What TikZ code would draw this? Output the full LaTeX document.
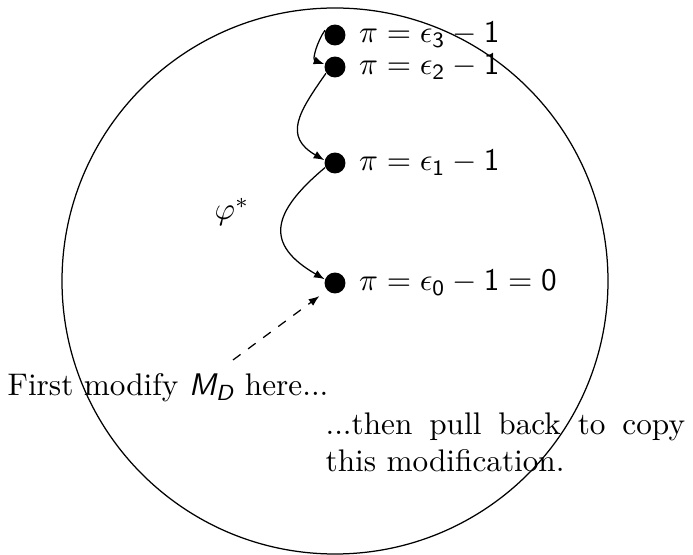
\documentclass[tikz,border=0pt]{standalone}
\usepackage{amsmath,amssymb}
\usepackage{tikz}
\usetikzlibrary{arrows.meta,positioning}

\begin{document}
\begin{tikzpicture}[
    x=0.32pt, y=-0.32pt,
    >={Latex[length=3.4pt,width=2.6pt]},
    arrow/.style={->, thin},
    dot/.style={circle, fill=black, inner sep=0pt, minimum size=6.7pt},
    level/.style={anchor=west, inner sep=0pt},
    remark/.style={inner sep=0pt},
]
\useasboundingbox (0,0) rectangle (693,555);

%% ── the space ────────────────────────────────────────────────
\draw[thin] (335,281) circle [radius=273];

%% ── levels of pi ─────────────────────────────────────────────
\node[dot] (e3) at (335,35)  {};
\node[dot] (e2) at (335,67)  {};
\node[dot] (e1) at (335,163) {};
\node[dot] (e0) at (335,283) {};

\node[level, right=4pt of e3] (l3) {$\pi = \epsilon_{\mathsf{3}} - \mathsf{1}$};
\node[level, right=4pt of e2] (l2) {$\pi = \epsilon_{\mathsf{2}} - \mathsf{1}$};
\node[level, right=4pt of e1] (l1) {$\pi = \epsilon_{\mathsf{1}} - \mathsf{1}$};
\node[level, right=4pt of e0] (l0) {$\pi = \epsilon_{\mathsf{0}} - \mathsf{1} = \mathsf{0}$};

\draw[arrow] (e3.155) to[out=235,in=160] (e2.165);
\draw[arrow] (e2.215) to[out=235,in=150,looseness=1.4] (e1.165);
\draw[arrow] (e1.205) to[out=220,in=150,looseness=1.6] (e0.160);
\node (phi) at (232,212) {$\varphi^{*}$};

%% ── remarks ──────────────────────────────────────────────────
\coordinate (dstart) at (233,360);
\draw[arrow, dashed, shorten >=3pt] (dstart) -- (e0.223);

\node[remark, anchor=base west] (first) at (7,396)
  {First modify \textsf{\itshape M\textsubscript{D}} here...};
\node[remark, anchor=north west, text width=115pt, align=justify] (then) at (325,412)
  {...then pull back to copy\linebreak this modification.};

\end{tikzpicture}
\end{document}
